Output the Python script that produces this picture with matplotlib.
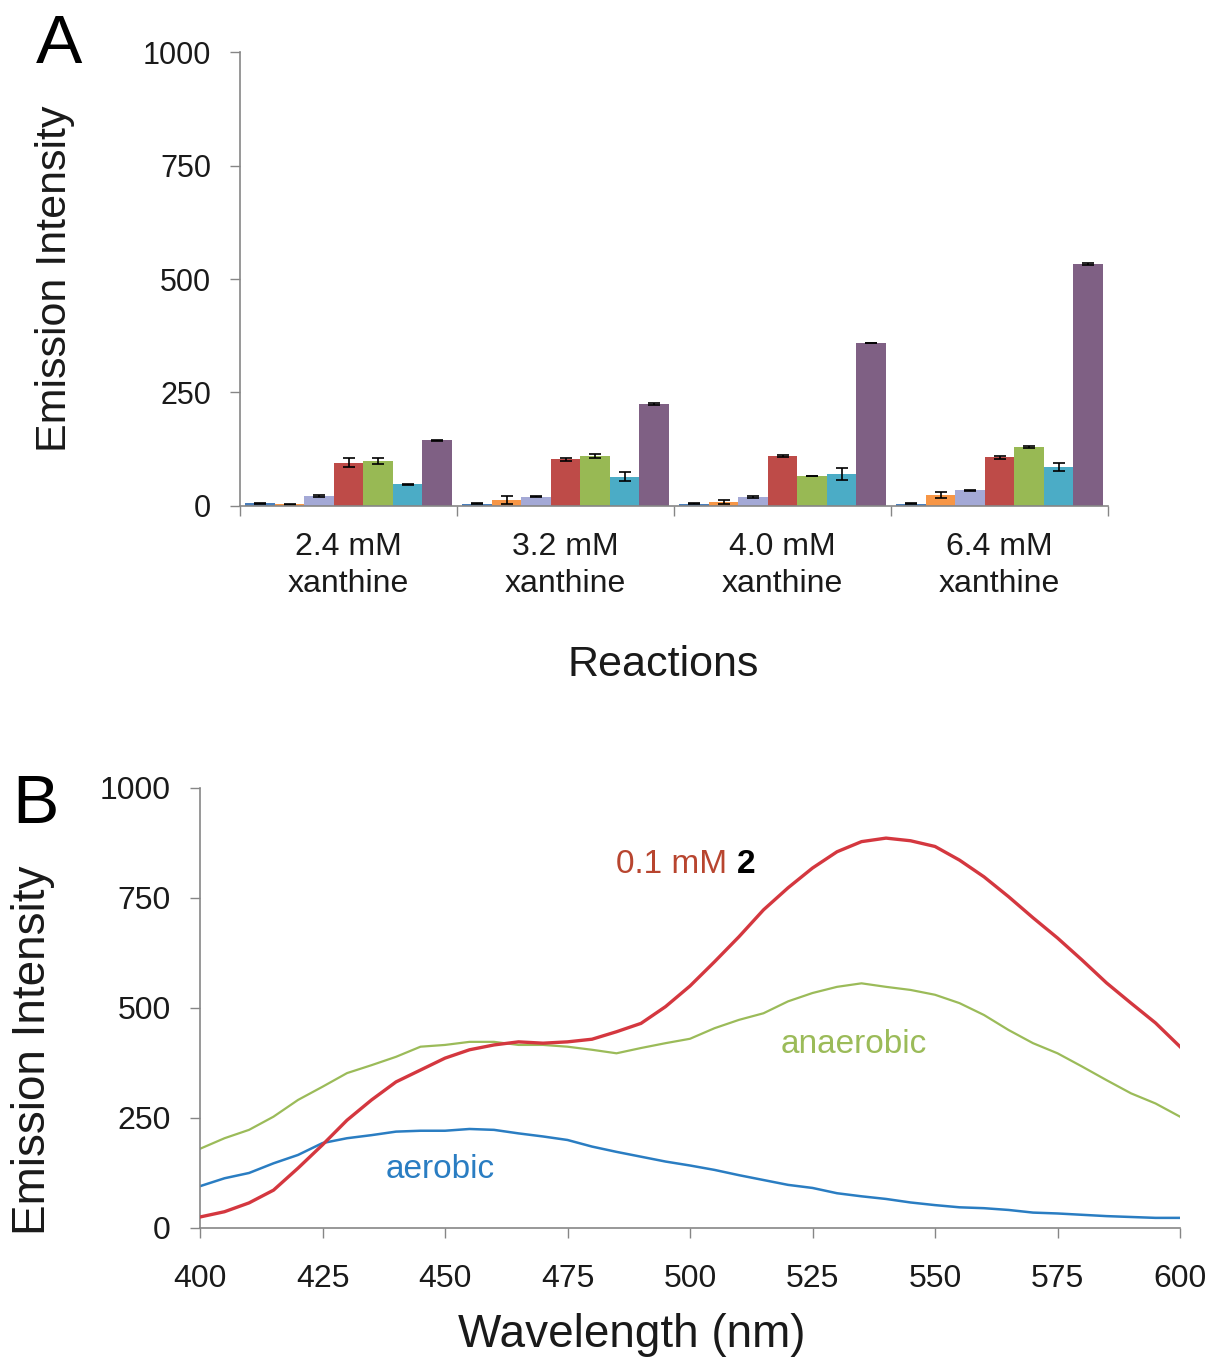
import matplotlib
matplotlib.use("Agg")
import matplotlib.pyplot as plt
import numpy as np

plt.rcParams['font.family'] = ['Liberation Sans', 'DejaVu Sans']

# --- Panel A data ---
groups = ['2.4 mM\nxanthine', '3.2 mM\nxanthine', '4.0 mM\nxanthine', '6.4 mM\nxanthine']
blue_vals = [6, 5, 5, 5]
blue_err = [1, 1, 1, 1]
orange_vals = [4, 13, 9, 24]
orange_err = [1, 8, 5, 7]
lavender_vals = [22, 20, 20, 35]
lavender_err = [2, 1, 2, 1]
red_vals = [95, 103, 110, 107]
red_err = [10, 3, 2, 4]
green_vals = [99, 110, 66, 130]
green_err = [6, 5, 1, 2]
teal_vals = [48, 64, 70, 86]
teal_err = [1, 10, 13, 9]
purple_vals = [145, 225, 359, 533]
purple_err = [1, 2, 1, 2]

# --- Panel B data ---
wavelength = [400, 405, 410, 415, 420, 425, 430, 435, 440, 445,
              450, 455, 460, 465, 470, 475, 480, 485, 490, 495,
              500, 505, 510, 515, 520, 525, 530, 535, 540, 545,
              550, 555, 560, 565, 570, 575, 580, 585, 590, 595, 600]
red_curve = [25, 37, 57, 86, 136, 189, 245, 291, 332, 359,
             386, 405, 416, 423, 420, 423, 429, 446, 465, 503,
             550, 605, 662, 723, 773, 818, 855, 878, 886, 880,
             867, 836, 798, 753, 705, 659, 609, 557, 511, 466, 412]
green_curve = [180, 204, 223, 253, 291, 321, 352, 370, 389, 412,
               416, 423, 423, 416, 416, 412, 405, 397, 409, 420,
               430, 454, 473, 488, 515, 534, 548, 556, 548, 541,
               530, 511, 484, 450, 420, 397, 367, 336, 306, 283, 253]
blue_curve = [95, 113, 125, 147, 166, 193, 204, 211, 219, 221,
              221, 225, 223, 215, 208, 200, 185, 173, 162, 151,
              142, 132, 120, 109, 98, 91, 79, 72, 66, 58,
              52, 47, 45, 41, 35, 33, 30, 27, 25, 23, 23]

axis_gray = '#868686'
text_col = '#1a1a1a'

fig = plt.figure(figsize=(12.13, 13.59), dpi=100)

# ---------------- Panel A ----------------
ax1 = fig.add_axes([0.1979, 0.6277, 0.7156, 0.334])
series = [
    (blue_vals, blue_err, '#4A7EBB'),
    (orange_vals, orange_err, '#F79646'),
    (lavender_vals, lavender_err, '#A4A9D6'),
    (red_vals, red_err, '#BE4B48'),
    (green_vals, green_err, '#98B954'),
    (teal_vals, teal_err, '#4BACC6'),
    (purple_vals, purple_err, '#7F6084'),
]
x = np.arange(len(groups))
width = 0.136
for i, (vals, err, col) in enumerate(series):
    offset = (i - 3) * width
    ax1.bar(x + offset, vals, width, color=col, yerr=err,
            error_kw=dict(ecolor='black', elinewidth=1.2, capsize=4, capthick=1.2),
            zorder=2)

ax1.set_xlim(-0.5, 3.5)
ax1.set_ylim(0, 1000)
ax1.set_yticks([0, 250, 500, 750, 1000])
ax1.set_xticks(np.arange(-0.5, 4.0, 1.0))
ax1.set_xticklabels([])
ax1.set_xticks(x, minor=True)
ax1.set_xticklabels(groups, minor=True, fontsize=23, color=text_col, linespacing=1.3)
ax1.tick_params(axis='x', which='major', direction='out', length=7, color=axis_gray, width=1)
ax1.tick_params(axis='x', which='minor', length=0, pad=19)
ax1.tick_params(axis='y', direction='out', length=7, color=axis_gray, width=1,
                labelsize=22, labelcolor=text_col, pad=14)
for s in ['top', 'right']:
    ax1.spines[s].set_visible(False)
for s in ['left', 'bottom']:
    ax1.spines[s].set_color(axis_gray)
    ax1.spines[s].set_linewidth(1.2)

ax1.set_ylabel('Emission Intensity', fontsize=31, color=text_col)
ax1.yaxis.set_label_coords(-0.213, 0.5)
ax1.yaxis.label.set_va('center')
ax1.set_xlabel('Reactions', fontsize=31, color=text_col)
ax1.xaxis.set_label_coords(0.487, -0.35)
ax1.xaxis.label.set_va('center')

fig.text(0.049, 0.967, 'A', fontsize=50, ha='center', va='center', color='black')

# ---------------- Panel B ----------------
ax2 = fig.add_axes([0.1649, 0.0964, 0.8079, 0.3238])
ax2.plot(wavelength, green_curve, color='#9BBB59', linewidth=1.6, zorder=2)
ax2.plot(wavelength, blue_curve, color='#2A7DC2', linewidth=1.8, zorder=2)
ax2.plot(wavelength, red_curve, color='#D4373F', linewidth=2.4, zorder=3)

ax2.set_xlim(400, 600)
ax2.set_ylim(0, 1000)
ax2.set_xticks(np.arange(400, 601, 25))
ax2.set_yticks([0, 250, 500, 750, 1000])
ax2.tick_params(axis='both', direction='out', length=7, color=axis_gray, width=1,
                labelsize=23, labelcolor=text_col)
ax2.tick_params(axis='x', pad=19)
ax2.tick_params(axis='y', pad=14)
for s in ['top', 'right']:
    ax2.spines[s].set_visible(False)
for s in ['left', 'bottom']:
    ax2.spines[s].set_color(axis_gray)
    ax2.spines[s].set_linewidth(1.2)

ax2.set_ylabel('Emission Intensity', fontsize=33, color=text_col)
ax2.yaxis.set_label_coords(-0.170, 0.405)
ax2.yaxis.label.set_va('center')
ax2.set_xlabel('Wavelength (nm)', fontsize=33, color=text_col)
ax2.xaxis.set_label_coords(0.441, -0.243)
ax2.xaxis.label.set_va('center')

ax2.text(507.6, 825, '0.1 mM', fontsize=24, color='#B8452F', ha='right', va='center')
ax2.text(509.6, 825, '2', fontsize=24, color='black', fontweight='bold', ha='left', va='center')
ax2.text(533.5, 416, 'anaerobic', fontsize=24, color='#9BBB59', ha='center', va='center')
ax2.text(449, 132, 'aerobic', fontsize=24, color='#2A7DC2', ha='center', va='center')

fig.text(0.029, 0.408, 'B', fontsize=50, ha='center', va='center', color='black')

fig.savefig('out.png', dpi=100, facecolor='white')
